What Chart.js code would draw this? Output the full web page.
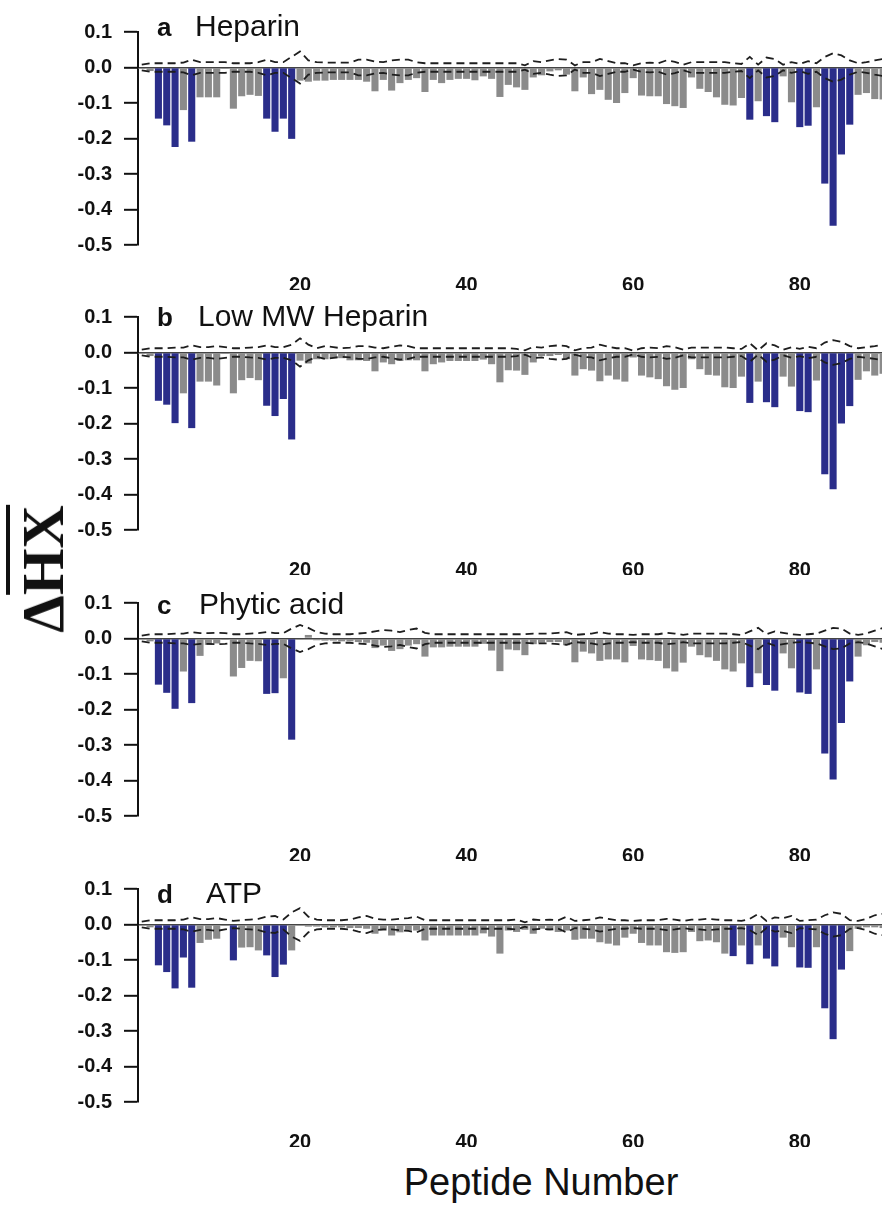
<!DOCTYPE html>
<html>
<head>
<meta charset="utf-8">
<script src="https://cdn.jsdelivr.net/npm/chart.js@4.4.1/dist/chart.umd.min.js"></script>
<style>
    html, body { margin: 0; padding: 0; background: #fff; overflow: hidden; }
    body { width: 882px; height: 1209px; position: relative; font-family: "Liberation Sans", Arial, sans-serif; }
    .panel { position: absolute; left: 0; width: 882px; height: 282px; }
    .panel canvas { display: block; }
    #ylab {
        position: absolute; left: 43px; top: 569px;
        transform: translate(-50%, -50%) rotate(-90deg);
        font: bold 60px "Liberation Serif", "Times New Roman", serif;
        line-height: 1; white-space: nowrap; color: #111;
    }
    #ylab .ov { border-top: 4px solid #111; }
    #xlab {
        position: absolute; left: 341px; width: 400px; top: 1163px;
        text-align: center; font-size: 38px; line-height: 1; color: #111;
    }
</style>
</head>
<body>
<div class="panel" style="top:8px"><canvas id="panelA" width="882" height="282"></canvas></div>
<div class="panel" style="top:293px"><canvas id="panelB" width="882" height="282"></canvas></div>
<div class="panel" style="top:579px"><canvas id="panelC" width="882" height="282"></canvas></div>
<div class="panel" style="top:865px"><canvas id="panelD" width="882" height="282"></canvas></div>
<div id="ylab">Δ<span class="ov">HX</span></div>
<div id="xlab">Peptide Number</div>

<script>
// peptide index along x
const peptides = Array.from({ length: 90 }, (_, i) => i + 1);
const xTickLabels = [20, 40, 60, 80];
const yTickLabels = [0.1, 0.0, -0.1, -0.2, -0.3, -0.4, -0.5];

const panelLetters = ["a", "b", "c", "d"];
const panelNames = ["Heparin", "Low MW Heparin", "Phytic acid", "ATP"];

// mean deuterium uptake difference per peptide
const heparin = [
    -0.004, -0.010, -0.144, -0.163, -0.224, -0.120, -0.209, -0.084, -0.084, -0.084,
    -0.004, -0.116, -0.081, -0.077, -0.080, -0.144, -0.181, -0.144, -0.201, -0.037,
    -0.040, -0.037, -0.037, -0.035, -0.035, -0.035, -0.035, -0.040, -0.067, -0.035,
    -0.065, -0.044, -0.035, -0.030, -0.069, -0.035, -0.044, -0.035, -0.032, -0.032,
    -0.036, -0.025, -0.032, -0.083, -0.049, -0.056, -0.063, -0.028, -0.022, -0.011,
    -0.008, -0.020, -0.067, -0.028, -0.075, -0.063, -0.091, -0.100, -0.072, -0.030,
    -0.079, -0.081, -0.081, -0.103, -0.109, -0.114, -0.028, -0.060, -0.069, -0.084,
    -0.105, -0.107, -0.086, -0.147, -0.095, -0.137, -0.154, -0.025, -0.098, -0.168,
    -0.164, -0.112, -0.327, -0.446, -0.245, -0.161, -0.077, -0.072, -0.089, -0.090
];
const lowMwHeparin = [
    -0.004, -0.010, -0.136, -0.147, -0.199, -0.115, -0.213, -0.082, -0.082, -0.093,
    -0.004, -0.115, -0.078, -0.072, -0.078, -0.150, -0.179, -0.131, -0.245, -0.023,
    -0.031, -0.019, -0.019, -0.016, -0.016, -0.022, -0.022, -0.024, -0.053, -0.028,
    -0.033, -0.024, -0.022, -0.022, -0.053, -0.033, -0.028, -0.024, -0.024, -0.024,
    -0.024, -0.020, -0.033, -0.084, -0.050, -0.051, -0.063, -0.028, -0.010, -0.010,
    -0.007, -0.019, -0.065, -0.047, -0.051, -0.081, -0.065, -0.076, -0.082, -0.014,
    -0.065, -0.070, -0.075, -0.095, -0.105, -0.100, -0.019, -0.047, -0.063, -0.065,
    -0.098, -0.100, -0.068, -0.142, -0.082, -0.140, -0.154, -0.068, -0.096, -0.165,
    -0.168, -0.079, -0.343, -0.385, -0.200, -0.151, -0.077, -0.053, -0.065, -0.060
];
const phyticAcid = [
    -0.003, -0.008, -0.130, -0.153, -0.198, -0.093, -0.182, -0.049, -0.018, -0.014,
    -0.004, -0.107, -0.083, -0.063, -0.064, -0.156, -0.154, -0.112, -0.285, -0.003,
    0.010, -0.005, -0.006, -0.006, -0.008, -0.008, -0.010, -0.012, -0.027, -0.020,
    -0.035, -0.030, -0.020, -0.016, -0.051, -0.025, -0.025, -0.023, -0.023, -0.023,
    -0.023, -0.015, -0.034, -0.092, -0.031, -0.033, -0.047, -0.016, -0.012, -0.010,
    -0.010, -0.019, -0.067, -0.037, -0.042, -0.063, -0.059, -0.059, -0.067, -0.021,
    -0.059, -0.061, -0.063, -0.084, -0.093, -0.068, -0.023, -0.047, -0.053, -0.063,
    -0.087, -0.093, -0.070, -0.137, -0.098, -0.131, -0.147, -0.042, -0.084, -0.152,
    -0.156, -0.087, -0.324, -0.397, -0.238, -0.121, -0.051, -0.019, -0.010, -0.012
];
const atp = [
    -0.003, -0.008, -0.115, -0.134, -0.180, -0.093, -0.178, -0.052, -0.043, -0.040,
    -0.004, -0.101, -0.065, -0.064, -0.073, -0.087, -0.148, -0.113, -0.073, -0.003,
    -0.006, -0.006, -0.008, -0.008, -0.008, -0.010, -0.010, -0.012, -0.026, -0.017,
    -0.031, -0.022, -0.017, -0.017, -0.045, -0.031, -0.031, -0.031, -0.031, -0.031,
    -0.031, -0.025, -0.034, -0.082, -0.017, -0.021, -0.015, -0.026, -0.012, -0.017,
    -0.021, -0.017, -0.043, -0.040, -0.040, -0.050, -0.054, -0.059, -0.037, -0.026,
    -0.052, -0.059, -0.059, -0.078, -0.080, -0.078, -0.021, -0.047, -0.045, -0.050,
    -0.082, -0.089, -0.059, -0.112, -0.059, -0.096, -0.118, -0.037, -0.064, -0.121,
    -0.122, -0.064, -0.236, -0.323, -0.127, -0.075, -0.012, -0.008, -0.008, -0.010
];

// significance limits (drawn as +/- dashed lines)
const heparinLimit = [
    0.008, 0.012, 0.012, 0.012, 0.012, 0.014, 0.022, 0.015, 0.015, 0.015,
    0.015, 0.012, 0.012, 0.012, 0.015, 0.022, 0.015, 0.015, 0.030, 0.045,
    0.020, 0.015, 0.014, 0.014, 0.014, 0.014, 0.022, 0.022, 0.017, 0.015,
    0.020, 0.022, 0.022, 0.015, 0.012, 0.012, 0.012, 0.012, 0.012, 0.012,
    0.012, 0.012, 0.012, 0.012, 0.012, 0.012, 0.006, 0.018, 0.015, 0.020,
    0.024, 0.022, 0.006, 0.015, 0.015, 0.024, 0.018, 0.012, 0.012, 0.006,
    0.012, 0.014, 0.012, 0.020, 0.016, 0.008, 0.015, 0.015, 0.015, 0.015,
    0.015, 0.012, 0.010, 0.030, 0.008, 0.028, 0.024, 0.008, 0.015, 0.010,
    0.018, 0.012, 0.030, 0.040, 0.034, 0.020, 0.012, 0.015, 0.020, 0.024
];
const lowMwHeparinLimit = [
    0.008, 0.012, 0.012, 0.012, 0.014, 0.014, 0.020, 0.015, 0.015, 0.018,
    0.015, 0.012, 0.012, 0.014, 0.015, 0.020, 0.015, 0.015, 0.022, 0.040,
    0.022, 0.012, 0.018, 0.015, 0.012, 0.014, 0.018, 0.018, 0.014, 0.012,
    0.016, 0.020, 0.018, 0.012, 0.012, 0.012, 0.012, 0.012, 0.012, 0.012,
    0.012, 0.012, 0.012, 0.012, 0.012, 0.010, 0.006, 0.016, 0.014, 0.018,
    0.020, 0.018, 0.006, 0.012, 0.014, 0.022, 0.016, 0.012, 0.012, 0.005,
    0.012, 0.014, 0.012, 0.018, 0.015, 0.008, 0.014, 0.014, 0.014, 0.014,
    0.014, 0.012, 0.010, 0.026, 0.006, 0.026, 0.020, 0.008, 0.015, 0.010,
    0.016, 0.012, 0.028, 0.035, 0.030, 0.018, 0.012, 0.015, 0.018, 0.022
];
const phyticAcidLimit = [
    0.008, 0.012, 0.012, 0.012, 0.014, 0.014, 0.018, 0.015, 0.015, 0.016,
    0.015, 0.012, 0.012, 0.014, 0.015, 0.018, 0.015, 0.015, 0.028, 0.038,
    0.030, 0.018, 0.014, 0.012, 0.012, 0.012, 0.014, 0.016, 0.020, 0.024,
    0.022, 0.018, 0.024, 0.028, 0.016, 0.012, 0.012, 0.012, 0.012, 0.012,
    0.012, 0.012, 0.012, 0.012, 0.012, 0.012, 0.012, 0.014, 0.014, 0.014,
    0.016, 0.018, 0.010, 0.012, 0.014, 0.018, 0.014, 0.012, 0.012, 0.010,
    0.012, 0.012, 0.012, 0.016, 0.014, 0.010, 0.014, 0.014, 0.014, 0.014,
    0.014, 0.012, 0.010, 0.020, 0.030, 0.012, 0.020, 0.016, 0.012, 0.010,
    0.012, 0.014, 0.022, 0.030, 0.028, 0.014, 0.010, 0.014, 0.022, 0.030
];
const atpLimit = [
    0.008, 0.012, 0.012, 0.012, 0.012, 0.014, 0.020, 0.015, 0.015, 0.018,
    0.014, 0.010, 0.012, 0.014, 0.016, 0.022, 0.024, 0.014, 0.034, 0.046,
    0.022, 0.014, 0.012, 0.012, 0.012, 0.014, 0.020, 0.024, 0.016, 0.014,
    0.014, 0.016, 0.018, 0.022, 0.012, 0.012, 0.012, 0.012, 0.012, 0.012,
    0.012, 0.012, 0.012, 0.012, 0.012, 0.014, 0.006, 0.014, 0.012, 0.014,
    0.012, 0.022, 0.010, 0.012, 0.014, 0.020, 0.016, 0.012, 0.012, 0.010,
    0.012, 0.012, 0.012, 0.016, 0.014, 0.010, 0.014, 0.014, 0.016, 0.014,
    0.012, 0.012, 0.010, 0.016, 0.030, 0.010, 0.020, 0.018, 0.024, 0.010,
    0.012, 0.014, 0.026, 0.034, 0.030, 0.012, 0.010, 0.016, 0.026, 0.030
];

// peptides with a significant change (blue bars)
const heparinSig = [3, 4, 5, 7, 16, 17, 18, 19, 74, 76, 77, 80, 81, 83, 84, 85, 86];
const lowMwHeparinSig = [3, 4, 5, 7, 16, 17, 18, 19, 74, 76, 77, 80, 81, 83, 84, 85, 86];
const phyticAcidSig = [3, 4, 5, 7, 16, 17, 19, 74, 76, 77, 80, 81, 83, 84, 85, 86];
const atpSig = [3, 4, 5, 6, 7, 12, 16, 17, 18, 72, 74, 76, 77, 80, 81, 83, 84, 85];

const BLUE = "#2a2d8a";
const GRAY = "#8b8b8b";

Chart.defaults.font.family = "'Liberation Sans', Arial, sans-serif";
Chart.defaults.color = "#111";

const panelTitle = {
    id: "panelTitle",
    afterDraw(chart, args, opts) {
        const { ctx, chartArea } = chart;
        ctx.save();
        ctx.fillStyle = "#111";
        ctx.textBaseline = "alphabetic";
        ctx.font = "bold 26px 'Liberation Sans', Arial, sans-serif";
        ctx.fillText(opts.letter, opts.letterX, chartArea.top + opts.dy);
        ctx.font = "30px 'Liberation Sans', Arial, sans-serif";
        ctx.fillText(opts.name, opts.nameX, chartArea.top + opts.dy);
        ctx.restore();
    }
};

function makePanel(id, idx, values, limit, sig, titleDy, nameX) {
    const ctx = document.getElementById(id).getContext("2d");
    const dashed = {
        type: "line",
        borderColor: "#1e1e1e",
        borderWidth: 1.8,
        borderDash: [8, 5],
        pointRadius: 0,
        fill: false,
        tension: 0,
        order: 1,
    };
    return new Chart(ctx, {
        type: "bar",
        data: {
            datasets: [
                { ...dashed, data: peptides.map((p, i) => ({ x: p, y: limit[i] })) },
                { ...dashed, data: peptides.map((p, i) => ({ x: p, y: -limit[i] })) },
                {
                    type: "bar",
                    data: peptides.map((p, i) => ({ x: p, y: values[i] })),
                    backgroundColor: peptides.map((p) => (sig.includes(p) ? BLUE : GRAY)),
                    borderWidth: 0,
                    barPercentage: 0.85,
                    categoryPercentage: 1,
                    order: 2,
                },
            ],
        },
        options: {
            responsive: false,
            animation: false,
            devicePixelRatio: 1,
            layout: { padding: 0 },
            plugins: {
                legend: { display: false },
                tooltip: { enabled: false },
                panelTitle: {
                    letter: panelLetters[idx],
                    name: panelNames[idx],
                    letterX: 157,
                    nameX: nameX,
                    dy: titleDy,
                },
            },
            scales: {
                x: {
                    type: "linear",
                    min: 0.55,
                    max: 89.87,
                    offset: false,
                    border: { display: false },
                    grid: { display: false },
                    afterBuildTicks: (scale) => {
                        scale.ticks = xTickLabels.map((v) => ({ value: v }));
                    },
                    afterFit: (scale) => { scale.height = 45; },
                    ticks: {
                        autoSkip: false,
                        maxRotation: 0,
                        padding: 20,
                        font: { size: 20, weight: "bold" },
                        color: "#111",
                    },
                },
                y: {
                    min: -0.5,
                    max: 0.1,
                    afterBuildTicks: (scale) => {
                        scale.ticks = yTickLabels.map((v) => ({ value: v }));
                    },
                    afterFit: (scale) => { scale.width = 138; },
                    border: { display: true, color: "#111", width: 2 },
                    grid: {
                        drawOnChartArea: true,
                        color: (c) => (c.tick && Math.abs(c.tick.value) < 1e-9 ? "#444" : "rgba(0,0,0,0)"),
                        lineWidth: 1.6,
                        tickColor: "#111",
                        tickWidth: 2,
                        tickLength: 14,
                    },
                    ticks: {
                        padding: 12,
                        font: { size: 20, weight: "bold" },
                        color: "#111",
                        callback: (v) => Number(v).toFixed(1),
                    },
                },
            },
        },
        plugins: [panelTitle],
    });
}

makePanel("panelA", 0, heparin, heparinLimit, heparinSig, 4, 195);
makePanel("panelB", 1, lowMwHeparin, lowMwHeparinLimit, lowMwHeparinSig, 9, 198);
makePanel("panelC", 2, phyticAcid, phyticAcidLimit, phyticAcidSig, 11, 199);
makePanel("panelD", 3, atp, atpLimit, atpSig, 14, 206);
</script>
</body>
</html>
